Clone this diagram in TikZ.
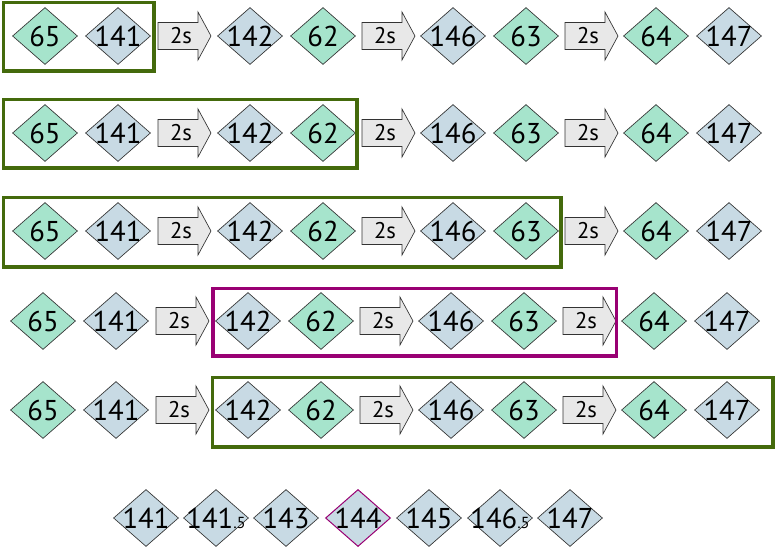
\documentclass[tikz,border=0pt]{standalone}
\usepackage{fontspec}
\setmainfont{PT Sans}[Numbers=Proportional]
\usetikzlibrary{shapes.geometric}
\definecolor{dgreen}{HTML}{A6E4CC}
\definecolor{dblue}{HTML}{C8DAE4}
\definecolor{agray}{HTML}{E8E8E8}
\definecolor{boxgreen}{HTML}{446A0C}
\definecolor{boxpurple}{HTML}{990073}
\tikzset{
 dia/.style={diamond, draw=black!80, line width=0.5pt, minimum width=48.75pt, minimum height=42.75pt, inner sep=0pt, font=\fontsize{21.5}{21.5}\selectfont},
 dg/.style={dia, fill=dgreen},
 db/.style={dia, fill=dblue},
 arr/.style={draw=black!80, fill=agray, line width=0.5pt, line join=miter},
 arrlabel/.style={font=\fontsize{17}{17}\selectfont, inner sep=0pt},
 selbox/.style={line width=2.6pt}
}
\newcommand\zb[1]{\makebox[0pt]{#1}}
\newcommand\sarrow[3]{%
 \draw[arr] (#2,#3-13.5) -- (#2+40,#3-13.5) -- (#2+40,#3-24) -- (#2+53,#3) -- (#2+40,#3+24) -- (#2+40,#3+13.5) -- (#2,#3+13.5) -- cycle;
 \node[arrlabel] (#1) at (#2+23,#3) {2s};}
\newcommand\seqrow[3]{%
 \node[dg] (r#1a) at (45+#3,#2) {\zb{65}};
 \node[db] (r#1b) at (118+#3,#2) {\zb{141}};
 \sarrow{r#1x}{158+#3}{#2}
 \node[db] (r#1c) at (250+#3,#2) {\zb{142}};
 \node[dg] (r#1d) at (323+#3,#2) {\zb{62}};
 \sarrow{r#1y}{362+#3}{#2}
 \node[db] (r#1e) at (453+#3,#2) {\zb{146}};
 \node[dg] (r#1f) at (526+#3,#2) {\zb{63}};
 \sarrow{r#1z}{565+#3}{#2}
 \node[dg] (r#1g) at (656+#3,#2) {\zb{64}};
 \node[db] (r#1h) at (729+#3,#2) {\zb{147}};}
\newcommand\halfsz{\fontsize{12}{12}\selectfont}
\begin{document}
\begin{tikzpicture}[x=0.75pt,y=-0.75pt]
\useasboundingbox (0,0) rectangle (775,547);
\seqrow{1}{36}{0}
\seqrow{2}{133}{0}
\seqrow{3}{231}{0}
\seqrow{4}{321}{-2}
\seqrow{5}{410}{-2}
\draw[selbox, boxgreen] (3.5,2.5) rectangle (154,71);
\draw[selbox, boxgreen] (3.5,99.5) rectangle (357,168);
\draw[selbox, boxgreen] (3.5,197.5) rectangle (561,267);
\draw[selbox, boxpurple] (213,288.5) rectangle (616.5,356);
\draw[selbox, boxgreen] (212.5,377.5) rectangle (773,447);
\begin{scope}[every node/.append style={minimum width=47.25pt}]
\node[db] (k1) at (146,518) {\zb{141}};
\node[db] (k2) at (216,518) {\zb{141{\halfsz.5}}};
\node[db] (k3) at (286,518) {\zb{143}};
\node[db, draw=boxpurple, line width=0.75pt] (k4) at (358,518) {\zb{144}};
\node[db] (k5) at (429,518) {\zb{145}};
\node[db] (k6) at (500,518) {\zb{146{\halfsz.5}}};
\node[db] (k7) at (570,518) {\zb{147}};
\end{scope}
\end{tikzpicture}
\end{document}
